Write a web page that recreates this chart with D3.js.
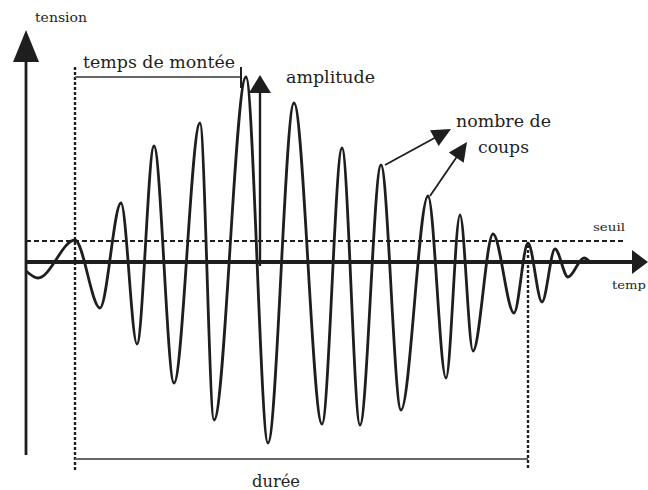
<!DOCTYPE html>
<html><head><meta charset="utf-8">
<script src="https://cdn.jsdelivr.net/npm/d3@7"></script>
<style>html,body{margin:0;padding:0;background:#fff;}svg{display:block;}</style>
</head><body>
<svg id="c" width="648" height="490"></svg>
<script>
// Signal extrema (time in arbitrary units, tension in arbitrary units)
const times  = [0, 1.2, 4.9, 7.4, 9.5, 11.1, 12.8, 14.8, 17.4, 18.8, 22.0, 24.2, 26.8, 29.6, 31.6, 33.4, 35.5, 37.5, 40.2, 42.0, 43.4, 44.7, 46.7, 48.8, 50.2, 51.6, 52.9, 54.2, 55.8, 56.4];
const values = [-0.9, -1.6, 2.2, -4.6, 5.9, -8.2, 11.6, -12.1, 13.9, -15.8, 18.5, -18.1, 15.9, -16.2, 11.4, -16.3, 9.7, -14.8, 6.6, -11.6, 4.7, -8.9, 2.8, -5.1, 1.9, -4.0, 1.3, -1.5, 0.4, 0];
const threshold = 2.1;
const tStart = 4.9, tEnd = 50.2, tRise = 21.5, tAmp = 23.4;
const labels = {y:"tension", x:"temp", seuil:"seuil", rise:"temps de montée", amp:"amplitude", counts:["nombre de","coups"], dur:"durée"};

const svg = d3.select("#c");
const x = d3.scaleLinear().domain([0, 62]).range([26, 646]);
const y = d3.scaleLinear().domain([-19.3, 23.2]).range([455, 30]);
const ink = "#1e1e1e";

function arrowHead(tip, from, len, hw){
  const dx = tip[0]-from[0], dy = tip[1]-from[1], L = Math.hypot(dx,dy);
  const ux = dx/L, uy = dy/L, bx = tip[0]-ux*len, by = tip[1]-uy*len;
  svg.append("path").attr("d", `M${tip[0]},${tip[1]}L${bx-uy*hw},${by+ux*hw}L${bx+uy*hw},${by-ux*hw}Z`).attr("fill", ink);
}

// threshold (seuil)
svg.append("line").attr("x1", x(0)).attr("x2", 624).attr("y1", y(threshold)).attr("y2", y(threshold))
  .attr("stroke", ink).attr("stroke-width", 2).attr("stroke-dasharray", "5,3");

// dotted verticals
svg.append("line").attr("x1", x(tStart)).attr("x2", x(tStart)).attr("y1", 67).attr("y2", 470)
  .attr("stroke", ink).attr("stroke-width", 2.4).attr("stroke-dasharray", "3,2");
svg.append("line").attr("x1", x(tEnd)).attr("x2", x(tEnd)).attr("y1", y(threshold)+4).attr("y2", 470)
  .attr("stroke", ink).attr("stroke-width", 2.4).attr("stroke-dasharray", "3,2");

// waveform
const pts = times.map((t,i)=>[t, values[i]]);
svg.append("path").datum(pts)
  .attr("d", d3.line().x(d=>x(d[0])).y(d=>y(d[1])).curve(d3.curveMonotoneX))
  .attr("fill","none").attr("stroke", ink).attr("stroke-width", 2.8).attr("stroke-linejoin","round");

// axes
svg.append("line").attr("x1", x(0)).attr("x2", x(0)).attr("y1", 455).attr("y2", 58).attr("stroke", ink).attr("stroke-width", 2.8);
arrowHead([x(0), 30], [x(0), 100], 32, 13);
svg.append("line").attr("x1", x(0)).attr("x2", 636).attr("y1", y(0)).attr("y2", y(0)).attr("stroke", ink).attr("stroke-width", 3.8);
arrowHead([648, y(0)], [600, y(0)], 16, 12);

// amplitude arrow
svg.append("line").attr("x1", x(tAmp)).attr("x2", x(tAmp)).attr("y1", y(0)+4).attr("y2", 90).attr("stroke", ink).attr("stroke-width", 2.4);
arrowHead([x(tAmp), 75], [x(tAmp), 200], 18, 11);

// rise time bracket
svg.append("line").attr("x1", x(tStart)).attr("x2", x(tRise)).attr("y1", 77).attr("y2", 77).attr("stroke", "#666").attr("stroke-width", 2);
svg.append("line").attr("x1", x(tRise)).attr("x2", x(tRise)).attr("y1", 67).attr("y2", 88).attr("stroke", ink).attr("stroke-width", 2);

// duration bracket
svg.append("line").attr("x1", x(tStart)).attr("x2", x(tEnd)).attr("y1", 459).attr("y2", 459).attr("stroke", "#666").attr("stroke-width", 2.2);

// count arrows
svg.append("line").attr("x1", 385).attr("y1", 165).attr("x2", 440).attr("y2", 135).attr("stroke", ink).attr("stroke-width", 1.8);
arrowHead([451, 129], [385, 165], 19, 9);
svg.append("line").attr("x1", 430).attr("y1", 196).attr("x2", 458).attr("y2", 155).attr("stroke", ink).attr("stroke-width", 1.8);
arrowHead([467, 142], [430, 196], 19, 9);

// texts
function txt(s, px, py, size, len){
  svg.append("text").attr("x", px).attr("y", py)
    .style("font-family", "'DejaVu Serif'")
    .attr("font-size", size).attr("fill", ink).attr("textLength", len).attr("lengthAdjust", "spacingAndGlyphs").text(s);
}
txt(labels.y, 35, 22, 12, 52);
txt(labels.rise, 83, 68, 16, 152);
txt(labels.amp, 286, 83, 16, 89);
txt(labels.counts[0], 456, 127, 16, 95);
txt(labels.counts[1], 478, 153, 16, 51);
txt(labels.seuil, 593, 231, 11, 32);
txt(labels.x, 612, 289, 11, 34);
txt(labels.dur, 252, 487, 16, 48);
</script>
</body></html>
